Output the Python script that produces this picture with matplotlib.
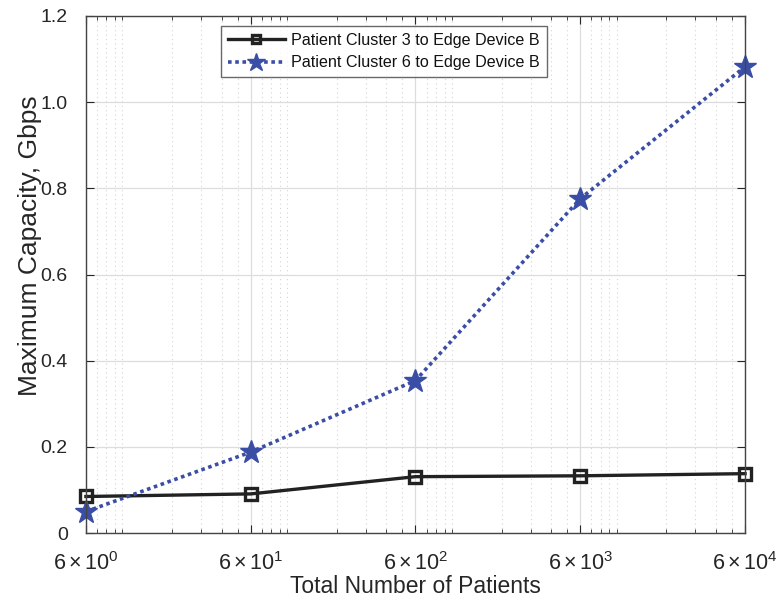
import matplotlib.pyplot as plt
from matplotlib.ticker import FixedLocator, LogLocator, NullFormatter

plt.rcParams['font.family'] = ['Liberation Sans', 'DejaVu Sans']
plt.rcParams['mathtext.fontset'] = 'custom'
plt.rcParams['mathtext.rm'] = 'Liberation Sans'
plt.rcParams['mathtext.it'] = 'Liberation Sans:italic'

patients = [6, 60, 600, 6000, 60000]
cluster3 = [0.085, 0.091, 0.131, 0.133, 0.138]
cluster6 = [0.050, 0.188, 0.354, 0.776, 1.082]
xtick_labels = [r'$6\times10^{0}$', r'$6\times10^{1}$', r'$6\times10^{2}$',
                r'$6\times10^{3}$', r'$6\times10^{4}$']
ytick_vals = [0, 0.2, 0.4, 0.6, 0.8, 1.0, 1.2]
ytick_labels = ['0', '0.2', '0.4', '0.6', '0.8', '1.0', '1.2']

txt = '#262626'
fig = plt.figure(figsize=(7.81, 6.10), dpi=100)
ax = fig.add_axes([0.110, 0.126, 0.844, 0.848])

ax.plot(patients, cluster3, color='#222222', lw=2.4, marker='s', ms=8,
        mfc='none', mec='#222222', mew=2.4, clip_on=False,
        label='Patient Cluster 3 to Edge Device B')
ax.plot(patients, cluster6, color='#3b4ea6', lw=2.6, ls=(0, (1, 1)), marker='*',
        ms=17, mfc='#3b4ea6', mec='#3b4ea6', clip_on=False,
        label='Patient Cluster 6 to Edge Device B')

ax.set_xscale('log')
ax.set_xlim(6, 60000)
ax.set_ylim(0, 1.2)
ax.xaxis.set_major_locator(FixedLocator(patients))
ax.set_xticklabels(xtick_labels)
ax.xaxis.set_minor_locator(LogLocator(base=10, subs=range(1, 10)))
ax.xaxis.set_minor_formatter(NullFormatter())
ax.set_yticks(ytick_vals)
ax.set_yticklabels(ytick_labels)

ax.grid(True, which='major', color='#dddddd', lw=0.9)
ax.grid(True, which='minor', axis='x', color='#d4d4d4', lw=0.8, ls=(0, (1, 3)))
ax.set_axisbelow(True)

ax.tick_params(which='both', direction='in', top=True, right=True, colors=txt)
ax.tick_params(axis='y', labelsize=14, pad=13)
ax.tick_params(axis='x', labelsize=15.5, pad=14)
ax.tick_params(which='major', length=6)
ax.tick_params(which='minor', length=3)
for s in ax.spines.values():
    s.set_color('#444444')
    s.set_linewidth(1)

ax.set_xlabel('Total Number of Patients', fontsize=16.5, color=txt, labelpad=0)
ax.set_ylabel('Maximum Capacity, Gbps', fontsize=19, color=txt)
ax.yaxis.set_label_coords(-0.066, 0.555)

leg = ax.legend(loc='upper left', bbox_to_anchor=(0.205, 0.981), fontsize=11.6,
                frameon=True, fancybox=False, edgecolor='#444444',
                handlelength=3.5, borderpad=0.45, labelspacing=0.45, handletextpad=0.4,
                borderaxespad=0, markerscale=0.8)
leg.get_frame().set_linewidth(1)
for t in leg.get_texts():
    t.set_color('#111111')

fig.savefig('out.png', dpi=100)
